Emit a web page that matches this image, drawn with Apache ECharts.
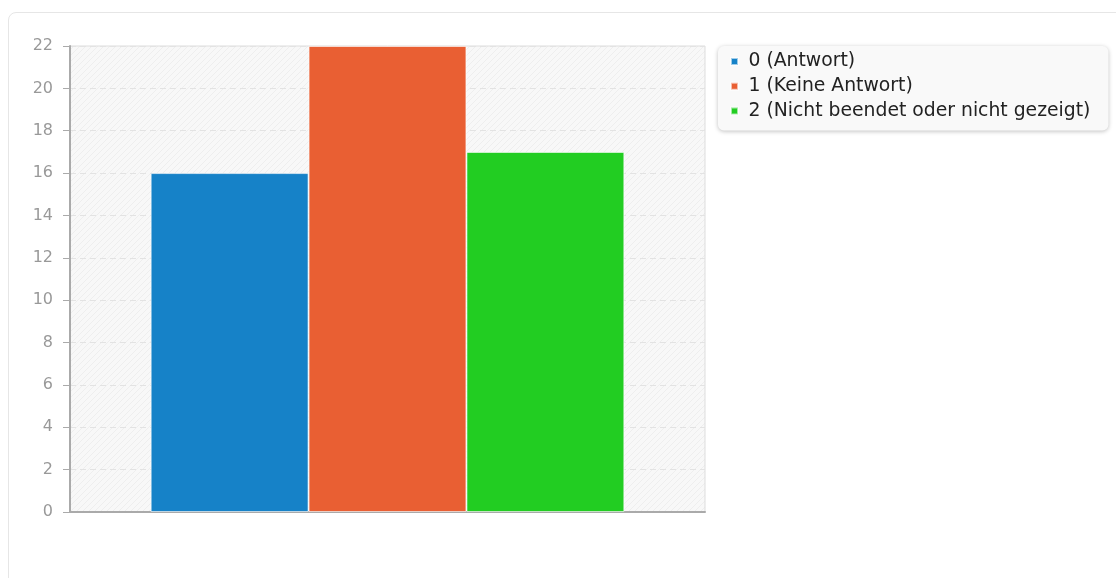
<!DOCTYPE html>
<html>
<head>
<meta charset="utf-8">
<script src="https://cdn.jsdelivr.net/npm/echarts@6/dist/echarts.min.js"></script>
<style>
html,body{margin:0;padding:0;background:#fff;overflow:hidden;}
#card{position:absolute;left:8px;top:12px;width:1200px;height:700px;border:1px solid #e6e6e6;border-radius:8px;box-sizing:border-box;}
#main{position:absolute;left:0;top:0;width:1116px;height:578px;}
</style>
</head>
<body>
<div id="card"></div>
<div id="main"></div>
<script>
const categories = ['Antwort'];
const seriesNames = ['0 (Antwort)', '1 (Keine Antwort)', '2 (Nicht beendet oder nicht gezeigt)'];
const seriesValues0 = [16];
const seriesValues1 = [22];
const seriesValues2 = [17];
const seriesColors = ['#1682c8', '#e95f33', '#22cd22'];
const yTicks = [0, 22, 2];

const pc = document.createElement('canvas');
pc.width = 6; pc.height = 6;
const g = pc.getContext('2d');
g.fillStyle = '#f8f8f8';
g.fillRect(0, 0, 6, 6);
g.strokeStyle = '#eeeeee';
g.lineWidth = 1;
g.beginPath();
g.moveTo(-1, 7); g.lineTo(7, -1);
g.moveTo(-4, 4); g.lineTo(4, -4);
g.moveTo(2, 10); g.lineTo(10, 2);
g.stroke();

const FONT = "'DejaVu Sans', sans-serif";
const chart = echarts.init(document.getElementById('main'), null, {renderer: 'canvas'});
const allValues = [seriesValues0, seriesValues1, seriesValues2];
chart.setOption({
  animation: false,
  textStyle: {fontFamily: FONT},
  grid: {left: 70, top: 46, right: 411, bottom: 66, show: true,
    backgroundColor: {image: pc, repeat: 'repeat'}, borderColor: '#dddddd', borderWidth: 1},
  legend: {
    orient: 'vertical', left: 718, top: 46,
    padding: [6, 18, 10, 12],
    backgroundColor: '#f9f9f9', borderRadius: 6,
    shadowBlur: 4, shadowColor: 'rgba(0,0,0,0.25)', shadowOffsetY: 1,
    itemWidth: 18, itemHeight: 7, itemGap: 5.7, icon: 'path://M0,0h1v1h-1z',
    symbolKeepAspect: true,
    textStyle: {fontSize: 18.8, color: '#222', fontFamily: FONT},
    data: seriesNames
  },
  xAxis: {
    type: 'category', data: categories,
    axisLine: {lineStyle: {color: '#aaaaaa', width: 2}},
    axisTick: {show: false}, axisLabel: {show: false}
  },
  yAxis: {
    type: 'value', min: yTicks[0], max: yTicks[1], interval: yTicks[2],
    axisLine: {show: true, lineStyle: {color: '#aaaaaa', width: 2}},
    axisTick: {show: true, length: 7, lineStyle: {color: '#aaaaaa'}},
    axisLabel: {color: '#999999', fontSize: 16, margin: 17, fontFamily: FONT},
    splitLine: {show: true, lineStyle: {color: '#e3e3e3', type: [6, 4]}}
  },
  series: seriesNames.map((n, i) => ({
    name: n, type: 'bar', data: allValues[i],
    barGap: '0%', barCategoryGap: '25.4%',
    itemStyle: {color: seriesColors[i], borderColor: 'rgba(255,255,255,0.6)', borderWidth: 1}
  }))
});
</script>
</body>
</html>
